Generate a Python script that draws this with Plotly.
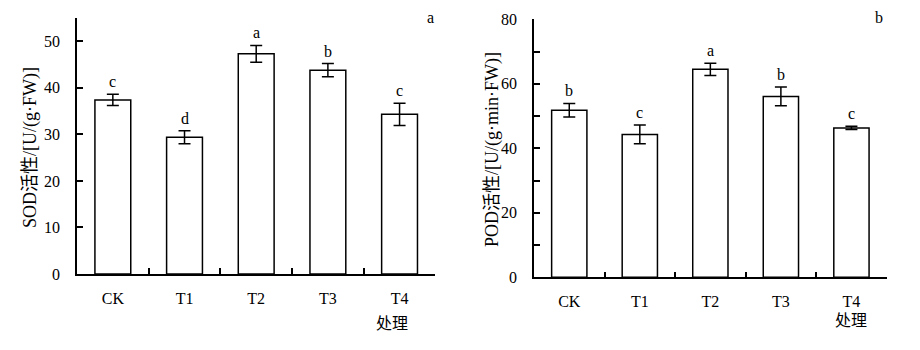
import plotly.graph_objects as go

# Treatments
categories = ["CK", "T1", "T2", "T3", "T4"]

# SOD activity, U/(g·FW)
sod_mean = [37.4, 29.4, 47.3, 43.8, 34.3]
sod_err = [1.2, 1.4, 1.8, 1.4, 2.4]
sod_letters = ["c", "d", "a", "b", "c"]

# POD activity, U/(g·min·FW)
pod_mean = [51.8, 44.3, 64.5, 56.1, 46.3]
pod_err = [2.1, 2.9, 1.9, 2.9, 0.5]
pod_letters = ["b", "c", "a", "b", "c"]

sod_ticks = [0, 10, 20, 30, 40, 50]
pod_ticks = [0, 10, 20, 30, 40, 50, 60, 70, 80]
pod_ticktext = ["0", "", "20", "", "40", "", "60", "", "80"]

FONT = "Times New Roman, Liberation Serif, Noto Sans CJK SC, serif"
W, H = 920, 350

fig = go.Figure()


def add_panel(xa, ya, means, errs):
    fig.add_trace(go.Bar(
        x=categories, y=means, xaxis=xa, yaxis=ya,
        marker=dict(color="white", line=dict(color="black", width=1.5)),
        error_y=dict(type="data", array=errs, visible=True,
                     color="black", thickness=1.5, width=6),
        showlegend=False,
    ))


add_panel("x", "y", sod_mean, sod_err)
add_panel("x2", "y2", pod_mean, pod_err)

axis_common = dict(
    showline=True, linecolor="black", linewidth=1.5,
    ticks="inside", ticklen=6, tickwidth=1.5, tickcolor="black",
    showgrid=False, zeroline=False, automargin=False,
    tickfont=dict(family=FONT, size=16, color="black"),
)

fig.update_layout(
    width=W, height=H,
    margin=dict(l=0, r=0, t=0, b=0, autoexpand=False),
    paper_bgcolor="white", plot_bgcolor="white",
    bargap=0.5,
    font=dict(family=FONT, size=16, color="black"),
    xaxis=dict(domain=[77 / W, 435.4 / W], anchor="y", type="category",
               range=[-0.5, 4.5], tickson="boundaries",
               ticklabelstandoff=9, **axis_common),
    yaxis=dict(domain=[(H - 274) / H, (H - 18) / H], anchor="x",
               range=[0, 55], tickvals=sod_ticks,
               ticklabelstandoff=12, **axis_common),
    xaxis2=dict(domain=[534 / W, 886.7 / W], anchor="y2", type="category",
                range=[-0.5, 4.5], tickson="boundaries",
                ticklabelstandoff=9, **axis_common),
    yaxis2=dict(domain=[(H - 277.3) / H, (H - 19.3) / H], anchor="x2",
                range=[0, 80], tickvals=pod_ticks, ticktext=pod_ticktext,
                ticklabelstandoff=12, **axis_common),
)

annotations = []
# significance letters above the error bars
for xr, yr, means, errs, letters in [
    ("x", "y", sod_mean, sod_err, sod_letters),
    ("x2", "y2", pod_mean, pod_err, pod_letters),
]:
    for cat, m, e, t in zip(categories, means, errs, letters):
        annotations.append(dict(
            x=cat, y=m + e, xref=xr, yref=yr, text=t, showarrow=False,
            xanchor="center", yanchor="bottom", yshift=2,
            font=dict(family=FONT, size=16, color="black"),
        ))


def paper_text(px, py, text, size=16, angle=0):
    return dict(x=px / W, y=(H - py) / H, xref="paper", yref="paper",
                text=text, textangle=angle, showarrow=False,
                xanchor="center", yanchor="middle",
                font=dict(family=FONT, size=size, color="black"))


# axis titles, x label and panel tags
annotations += [
    paper_text(30, 148, "SOD活性/[U/(g·FW)]", size=18, angle=-90),
    paper_text(492, 150, "POD活性/[U/(g·min·FW)]", size=18, angle=-90),
    paper_text(391.5, 323, "处理"),
    paper_text(851, 320.5, "处理"),
    paper_text(430, 18, "a"),
    paper_text(879, 18, "b"),
]
fig.update_layout(annotations=annotations)

fig.write_html("out.html")
